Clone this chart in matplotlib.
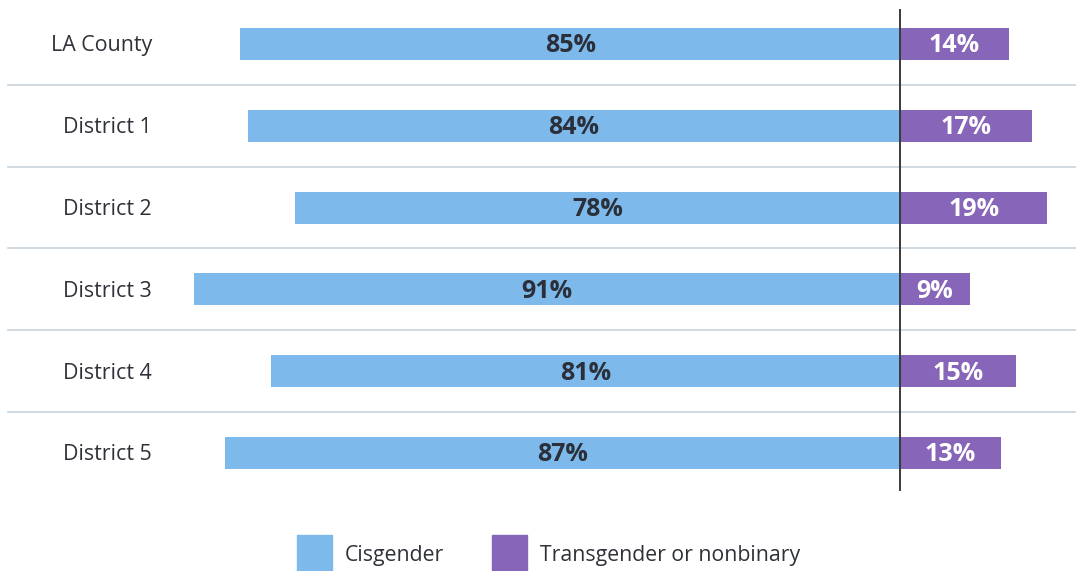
import matplotlib
matplotlib.use("Agg")
import matplotlib.pyplot as plt
from matplotlib.patches import Rectangle

categories = ["LA County", "District 1", "District 2", "District 3", "District 4", "District 5"]
cisgender = [85, 84, 78, 91, 81, 87]
trans_nonbinary = [14, 17, 19, 9, 15, 13]
series_names = ["Cisgender", "Transgender or nonbinary"]
colors = ["#7db9ea", "#8765b8"]

plt.rcParams['font.family'] = ['Open Sans', 'DejaVu Sans']

W, H = 1076, 571
fig = plt.figure(figsize=(W / 100, H / 100), dpi=100)
ax = fig.add_axes([0, 0, 1, 1])

px_per_unit = 7.76
x0_px = 900
row_px = 81.8
row0_px = 44
ax.set_xlim(-x0_px / px_per_unit, (W - x0_px) / px_per_unit)
ax.set_ylim((H - row0_px) / row_px, -row0_px / row_px)
ax.axis("off")

def px_x(p):
    return (p - x0_px) / px_per_unit

def px_y(p):
    return (p - row0_px) / row_px

ypos = list(range(len(categories)))
bh = 32 / row_px
ax.barh(ypos, [-v for v in cisgender], height=bh, color=colors[0], zorder=2)
ax.barh(ypos, trans_nonbinary, height=bh, color=colors[1], zorder=2)

for i in range(len(categories) - 1):
    ax.plot([px_x(8), px_x(W)], [i + 0.5, i + 0.5], color="#c3cfd7", lw=1.1, zorder=1)

ax.plot([0, 0], [px_y(10), px_y(490)], color="#3a3a3a", lw=1.4, zorder=3)

dy = 2 / row_px
for i, (c, t, lab) in enumerate(zip(cisgender, trans_nonbinary, categories)):
    ax.text(px_x(152), i + dy, lab, ha="right", va="center", fontsize=15.4, color="#2e3138")
    ax.text(-c / 2, i + dy, f"{c}%", ha="center", va="center", fontsize=18,
            fontweight="bold", color="#2b2f3a", zorder=4)
    ax.text(t / 2, i + dy, f"{t}%", ha="center", va="center", fontsize=18,
            fontweight="bold", color="white", zorder=4)

# legend
tr = fig.transFigure
leg = [(297, 345), (492, 540)]
for (sx, tx), name, col in zip(leg, series_names, colors):
    fig.patches.append(Rectangle((sx / W, 1 - 571 / H), 35 / W, 36 / H,
                                 transform=tr, color=col))
    fig.text(tx / W, 1 - 555 / H, name, ha="left", va="center",
             fontsize=15.3, color="#2e3138")

fig.savefig("out.png", dpi=100)
